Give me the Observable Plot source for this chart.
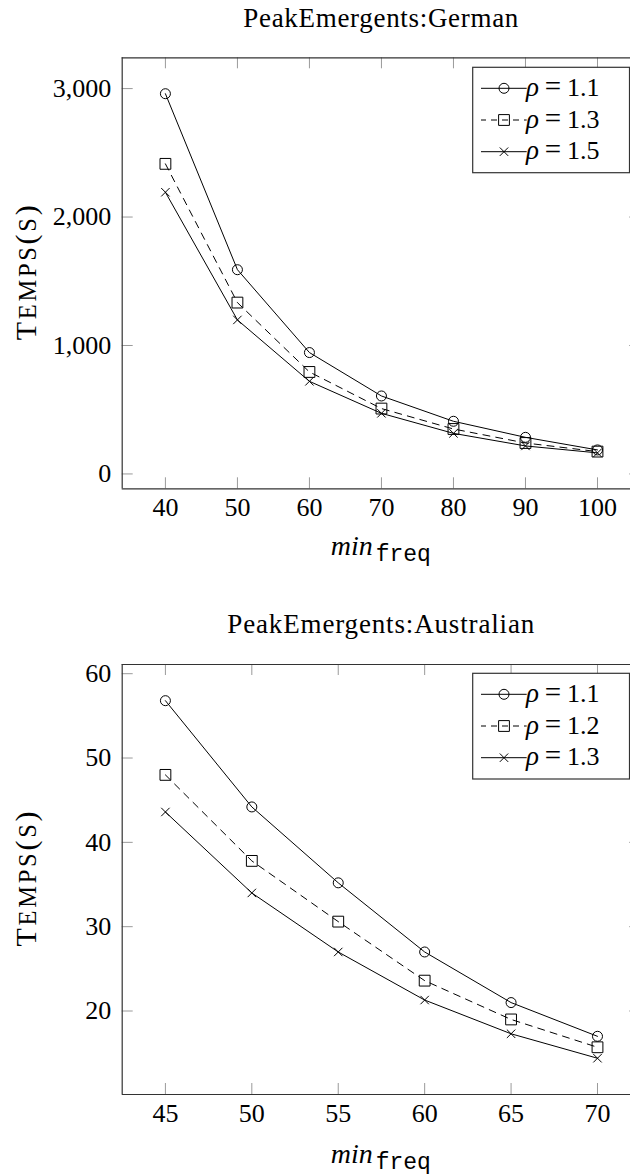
<!DOCTYPE html>
<html><head><meta charset="utf-8">
<script src="https://cdn.jsdelivr.net/npm/d3@7"></script>
<script src="https://cdn.jsdelivr.net/npm/@observablehq/plot@0.6"></script>
<style>
html,body{margin:0;padding:0;background:#fff;overflow:hidden;}
#wrap{position:relative;width:630px;height:1176px;overflow:hidden;background:#fff;}
#wrap svg{position:absolute;left:0;display:block;overflow:hidden;max-width:none !important;}
</style></head><body><div id="wrap"></div>
<script>
// ---- data ----
const germanTitle = "PeakEmergents:German";
const germanX = [40, 50, 60, 70, 80, 90, 100];
const germanRho11 = [2960, 1590, 945, 607, 410, 285, 187];
const germanRho13 = [2414, 1334, 794, 509, 350, 241, 174];
const germanRho15 = [2193, 1199, 721, 472, 316, 218, 164];
const germanLabels = ["1.1", "1.3", "1.5"];
const germanYTicks = [0, 1000, 2000, 3000];
const germanYTickLabels = ["0", "1,000", "2,000", "3,000"];

const ausTitle = "PeakEmergents:Australian";
const ausX = [45, 50, 55, 60, 65, 70];
const ausRho11 = [56.8, 44.2, 35.2, 27.0, 21.0, 17.0];
const ausRho12 = [48.0, 37.8, 30.6, 23.6, 19.0, 15.7];
const ausRho13 = [43.6, 34.0, 27.0, 21.3, 17.3, 14.4];
const ausLabels = ["1.1", "1.2", "1.3"];
const ausYTicks = [20, 30, 40, 50, 60];
const ausYTickLabels = ["20", "30", "40", "50", "60"];

const yLabel = "Temps(s)";

const SERIF = "'Liberation Serif','Times New Roman',serif";
const MONO = "'Liberation Mono','DejaVu Sans Mono',monospace";
const styles = [
  {symbol: "circle", r: 5, dash: null},
  {symbol: "square", r: 6.1, dash: "7,6"},
  {symbol: "times", r: 3.9, dash: null}
];

function build(cfg) {
  const W = 630, ML = 121.7, XR = 640.2;
  const plotW = XR - ML;
  const plotH = cfg.height - cfg.marginTop - cfg.marginBottom;
  const tickLabel = new Map(cfg.yTicks.map((t, i) => [t, cfg.yTickLabels[i]]));
  const tickStroke = "#9a9a9a";
  const marks = [
    Plot.tickX(cfg.xTicks, {x: d => d, insetTop: plotH - 11, stroke: tickStroke, strokeWidth: 1}),
    Plot.tickX(cfg.xTicks, {x: d => d, insetBottom: plotH - 11, stroke: tickStroke, strokeWidth: 1}),
    Plot.tickY(cfg.yTicks, {y: d => d, insetRight: plotW - 11, stroke: tickStroke, strokeWidth: 1}),
    Plot.tickY(cfg.yTicks, {y: d => d, insetLeft: plotW - 11, stroke: tickStroke, strokeWidth: 1}),
    Plot.axisX({ticks: cfg.xTicks, tickSize: 0, tickPadding: 9, tickFormat: d => String(d), label: null}),
    Plot.axisY({ticks: cfg.yTicks, tickSize: 0, tickPadding: 11, tickFormat: d => tickLabel.get(d), label: null}),
    // axis box: left, bottom and top edges (the right edge lies outside the picture)
    Plot.ruleX([cfg.xDomain[0]], {stroke: "#333", strokeWidth: 1.2}),
    Plot.ruleY(cfg.yDomain, {stroke: "#333", strokeWidth: 1.2})
  ];
  cfg.series.forEach((vals, k) => {
    const st = styles[k];
    const rows = cfg.xs.map((x, i) => ({x, y: vals[i]}));
    marks.push(Plot.line(rows, {x: "x", y: "y", stroke: "#000", strokeWidth: 1, strokeDasharray: st.dash || undefined}));
    marks.push(Plot.dot(rows, {x: "x", y: "y", symbol: st.symbol, r: st.r, stroke: "#000", strokeWidth: 1, fill: "none"}));
  });
  const svg = Plot.plot({
    width: W, height: cfg.height,
    marginLeft: ML, marginRight: W - XR, marginTop: cfg.marginTop, marginBottom: cfg.marginBottom,
    x: {domain: cfg.xDomain},
    y: {domain: cfg.yDomain},
    style: {fontFamily: SERIF, fontSize: "26px", color: "#000", background: "transparent", overflow: "hidden", maxWidth: "none"},
    marks
  });
  svg.style.top = cfg.top + "px";
  const s = d3.select(svg);
  const cx = 380.8;
  // title
  s.append("text").attr("x", cx).attr("y", cfg.titleY).attr("text-anchor", "middle")
    .attr("font-family", SERIF).attr("font-size", 27).attr("fill", "#000")
    .attr("textLength", cfg.titleLength).attr("lengthAdjust", "spacing").text(cfg.title);
  // x label
  const xl = s.append("text").attr("x", cx).attr("y", cfg.xLabelY).attr("text-anchor", "middle").attr("fill", "#000");
  xl.append("tspan").attr("font-family", SERIF).attr("font-style", "italic").attr("font-size", 28).text("min");
  xl.append("tspan").attr("font-family", MONO).attr("font-size", 23).attr("dx", 3).attr("dy", 6).text("freq");
  // y label (small caps)
  const yc = (cfg.marginTop + cfg.height - cfg.marginBottom) / 2;
  const yt = s.append("text").attr("transform", `translate(36,${yc}) rotate(-90)`).attr("text-anchor", "middle")
    .attr("font-family", SERIF).attr("fill", "#000").attr("textLength", 135).attr("lengthAdjust", "spacing");
  for (const ch of yLabel) {
    const small = ch !== ch.toUpperCase();
    yt.append("tspan").attr("font-size", small ? 24.5 : 30).text(ch.toUpperCase());
  }
  // legend
  const lg = s.append("g");
  lg.append("rect").attr("x", 472.7).attr("y", cfg.legendTop).attr("width", 629.5 - 472.7).attr("height", cfg.legendBottom - cfg.legendTop)
    .attr("fill", "#fff").attr("stroke", "#333").attr("stroke-width", 1.2);
  const symMap = {circle: d3.symbolCircle, square: d3.symbolSquare, times: d3.symbolTimes};
  cfg.labels.forEach((lab, k) => {
    const st = styles[k];
    const y = cfg.legendRows[k];
    lg.append("line").attr("x1", 481).attr("x2", 526.7).attr("y1", y).attr("y2", y)
      .attr("stroke", "#000").attr("stroke-width", 1).attr("stroke-dasharray", st.dash ? "6,5" : null)
      .attr("stroke-dashoffset", st.dash ? 1 : null);
    lg.append("path").attr("transform", `translate(504,${y})`)
      .attr("d", d3.symbol(symMap[st.symbol], Math.PI * st.r * st.r)())
      .attr("fill", "none").attr("stroke", "#000").attr("stroke-width", 1);
    lg.append("text").attr("x", 532.5).attr("y", y + 7.5).attr("font-family", SERIF).attr("font-size", 27)
      .attr("font-style", "italic").attr("fill", "#000").text("ρ");
    lg.append("text").attr("x", 553).attr("y", y + 7.5).attr("font-family", SERIF).attr("font-size", 29)
      .attr("fill", "#000").text("=");
    lg.append("text").attr("x", 583.3).attr("y", y + 7.5).attr("font-family", SERIF).attr("font-size", 26)
      .attr("fill", "#000").text(lab);
  });
  document.getElementById("wrap").appendChild(svg);
}

build({
  top: 0, height: 600, marginTop: 57.3, marginBottom: 111.7,
  xDomain: [34, 106], xTicks: germanX,
  yDomain: [-115.6, 3239.6], yTicks: germanYTicks, yTickLabels: germanYTickLabels,
  xs: germanX, series: [germanRho11, germanRho13, germanRho15], labels: germanLabels,
  title: germanTitle, titleY: 27.3, titleLength: 275, xLabelY: 555,
  legendTop: 67.3, legendBottom: 172.7, legendRows: [88.3, 120, 151.7]
});
build({
  top: 600, height: 576, marginTop: 64, marginBottom: 82,
  xDomain: [42.5, 72.5], xTicks: ausX,
  yDomain: [10.1, 61.09], yTicks: ausYTicks, yTickLabels: ausYTickLabels,
  xs: ausX, series: [ausRho11, ausRho12, ausRho13], labels: ausLabels,
  title: ausTitle, titleY: 33, titleLength: 307, xLabelY: 563.3,
  legendTop: 73.3, legendBottom: 179, legendRows: [94.3, 126, 157.7]
});
</script></body></html>
